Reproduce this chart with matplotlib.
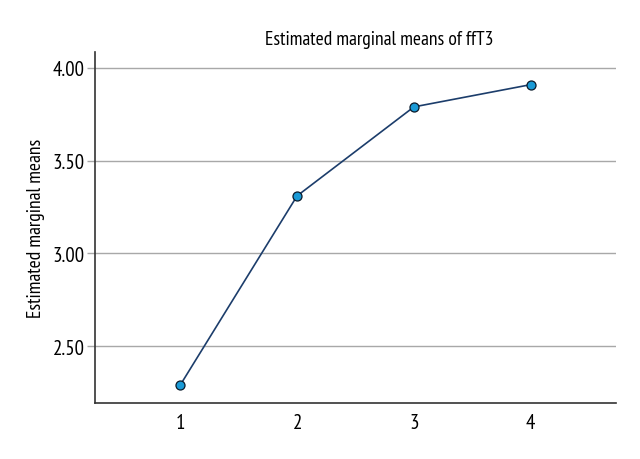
import matplotlib
matplotlib.use("Agg")
import matplotlib.pyplot as plt

groups = [1, 2, 3, 4]
means = [2.29, 3.31, 3.79, 3.91]
yticks = [2.50, 3.00, 3.50, 4.00]
ytick_labels = ["2.50", "3.00", "3.50", "4.00"]

plt.rcParams['font.family'] = ['PT Sans Narrow', 'Open Sans Condensed', 'DejaVu Sans']

fig = plt.figure(figsize=(6.4, 4.6), dpi=100)
ax = fig.add_axes([95/640, 1 - 404/460, (616-95)/640, (404-53)/460])

ax.plot(groups, means, color="#1c3d6b", lw=1.2, marker="o", ms=6.5,
        mfc="#1a9ad6", mec="#0a1a2a", mew=0.9, zorder=3)

ax.set_xlim(0.27, 4.73)
ax.set_ylim(2.193, 4.086)
ax.set_xticks(groups)
ax.set_xticklabels([str(g) for g in groups], fontsize=15)
ax.set_yticks(yticks)
ax.set_yticklabels(ytick_labels, fontsize=15)
ax.yaxis.grid(True, color="#a8a8a8", lw=1.0)
ax.set_axisbelow(True)
ax.tick_params(axis='x', length=0, pad=7)
ax.tick_params(axis='y', length=6, color="#a8a8a8", width=1.0, pad=1.5)
for s in ["top", "right"]:
    ax.spines[s].set_visible(False)
for s in ["left", "bottom"]:
    ax.spines[s].set_color("#333333")
    ax.spines[s].set_linewidth(1.2)

ax.set_ylabel("Estimated marginal means", fontsize=14)
ax.yaxis.set_label_coords((45 - 95) / (616 - 95), 0.5)
fig.text(379/640, 1 - 40/460, "Estimated marginal means of ffT3", ha="center",
         va="center", fontsize=14)

fig.savefig("out.png", dpi=100, facecolor="white")
